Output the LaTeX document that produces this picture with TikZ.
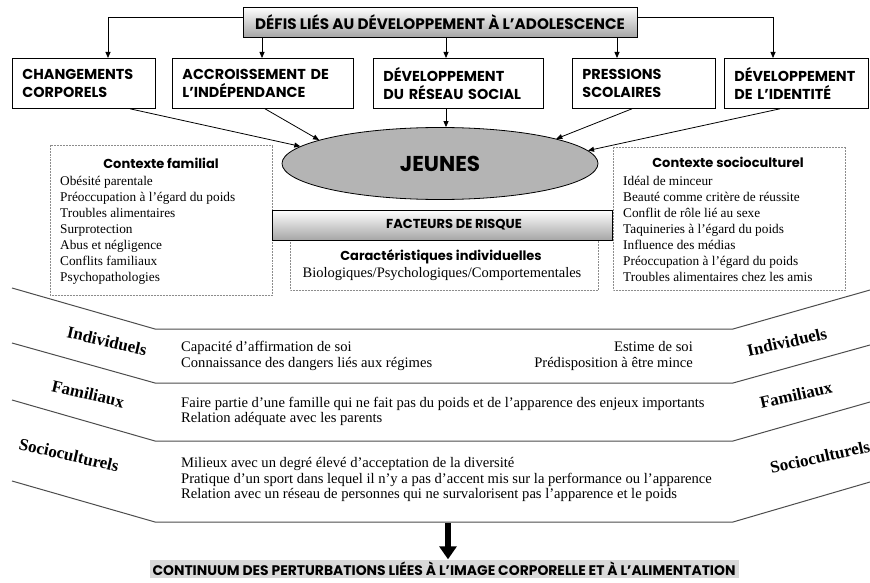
\documentclass[tikz,border=0pt]{standalone}
\usepackage{fontspec}
\setmainfont{Liberation Serif}
\newfontfamily\gothic{Poppins}
\usetikzlibrary{arrows.meta,shapes.geometric}
\definecolor{ellg}{RGB}{180,180,180}
\definecolor{contg}{RGB}{217,217,217}
\begin{document}
\begin{tikzpicture}[x=1pt,y=-1pt,
  arr/.style={-{Triangle[length=6pt,width=5pt]}, line width=0.8pt},
  cbox/.style={draw, line width=0.8pt, anchor=north west, minimum height=50pt, inner xsep=10pt, inner ysep=0pt, align=left, font=\gothic\bfseries\fontsize{14.4}{18}\selectfont},
  gradbox/.style={draw, line width=0.8pt, shading=axis, top color=white, bottom color=black!35, inner sep=0pt},
  dotbox/.style={draw=black!45, densely dotted, line width=0.5pt},
  ttl/.style={font=\gothic\bfseries\fontsize{13}{15}\selectfont, inner sep=0pt},
  ltxt/.style={anchor=base west, inner sep=0pt, font=\fontsize{13.3}{16}\selectfont},
  btxt/.style={anchor=base west, inner sep=0pt, font=\fontsize{14.6}{16}\selectfont},
  brtxt/.style={anchor=base east, inner sep=0pt, font=\fontsize{14.6}{16}\selectfont},
  ctxt/.style={anchor=base, inner sep=0pt, font=\fontsize{14.5}{16}\selectfont},
  band/.style={line width=1pt, draw=black!70},
  lab/.style={font=\bfseries\fontsize{17}{17}\selectfont, inner sep=0pt}
]
\useasboundingbox (0,0) rectangle (870,583);

% top
\node[gradbox, minimum width=394pt, minimum height=30pt, font=\gothic\bfseries\fontsize{15.2}{16}\selectfont] (defis) at (440,22) {DÉFIS LIÉS AU DÉVELOPPEMENT À L’ADOLESCENCE};

\node[cbox, text width=123pt] (b1) at (12,58) {CHANGEMENTS\\CORPORELS};
\node[cbox, text width=161pt] (b2) at (172,58) {ACCROISSEMENT DE\\L’INDÉPENDANCE};
\node[cbox, text width=150pt] (b3) at (373,58) {DÉVELOPPEMENT\\DU RÉSEAU SOCIAL};
\node[cbox, text width=123pt] (b4) at (572,58) {PRESSIONS\\SCOLAIRES};
\node[cbox, text width=124pt] (b5) at (724,58) {DÉVELOPPEMENT\\DE L’IDENTITÉ};

\draw[arr] (defis.west |- 0,17) -| (b1.north -| 108,0);
\draw[arr] (defis.south -| 262,0) -- (b2.north -| 262,0);
\draw[arr] (defis.south -| 446,0) -- (b3.north -| 446,0);
\draw[arr] (defis.south -| 617,0) -- (b4.north -| 617,0);
\draw[arr] (defis.east |- 0,17) -| (b5.north -| 773,0);

% ellipse
\node[ellipse, draw, line width=0.8pt, fill=ellg, minimum width=316pt, minimum height=72pt, inner sep=0pt, font=\gothic\bfseries\fontsize{21.5}{22}\selectfont] (jeunes) at (440,163.5) {JEUNES};

\draw[arr] (b1.south -| 130,0) -- (jeunes.173.7);
\draw[arr] (b2.south -| 265,0) -- (jeunes.169);
\draw[arr] (b3.south -| 446,0) -- (jeunes.north -| 446,0);
\draw[arr] (b4.south -| 632,0) -- (jeunes.12);
\draw[arr] (b5.south -| 780,0) -- (jeunes.5.7);

% context boxes
\draw[dotbox] (50,145) rectangle (272,295);
\draw[dotbox] (613,147) rectangle (845,290);
\draw[dotbox] (290,240) rectangle (598,290);
\node[gradbox, minimum width=340pt, minimum height=30pt, font=\gothic\bfseries\fontsize{13}{15}\selectfont] (risk) at (442,225) {\hspace*{24pt}FACTEURS DE RISQUE};

\node[ttl] (famt) at (161,163) {Contexte familial};
\foreach \t [count=\i] in {Obésité parentale, Préoccupation à l’égard du poids, Troubles alimentaires, Surprotection, Abus et négligence, Conflits familiaux, Psychopathologies}
  \node[ltxt] (fam\i) at (60,{185.5+16*(\i-1)}) {\t};

\node[ttl] (soct) at (728,162) {Contexte socioculturel};
\foreach \t [count=\i] in {Idéal de minceur, Beauté comme critère de réussite, Conflit de rôle lié au sexe, Taquineries à l’égard du poids, Influence des médias, Préoccupation à l’égard du poids, Troubles alimentaires chez les amis}
  \node[ltxt] (soc\i) at (623,{185.5+16*(\i-1)}) {\t};

\node[ttl] (indt) at (441,257) {Caractéristiques individuelles};
\node[ctxt] (ind1) at (442,277.5) {Biologiques/Psychologiques/Comportementales};

% bands
\draw[band] (12,288) -- (155,329) -- (733,329) -- (870,290);
\draw[band] (12,343) -- (155,383) -- (733,383) -- (870,345);
\draw[band] (12,400) -- (155,441) -- (733,441) -- (870,402);
\draw[band] (12,481) -- (155,522) -- (733,522) -- (870,482);

\node[lab, rotate=-13] (li) at (107,341) {Individuels};
\node[lab, rotate=-13] (lf) at (88,394) {Familiaux};
\node[lab, rotate=-13] (ls) at (69,455) {Socioculturels};
\node[lab, rotate=12.5] (ri) at (787,342) {Individuels};
\node[lab, rotate=12.5] (rf) at (796,395) {Familiaux};
\node[lab, rotate=12.5] (rs) at (820,457) {Socioculturels};

\node[btxt] (t11) at (181,351.5) {Capacité d’affirmation de soi};
\node[btxt] (t12) at (181,367.5) {Connaissance des dangers liés aux régimes};
\node[brtxt] (t13) at (693,351.5) {Estime de soi};
\node[brtxt] (t14) at (693,367.5) {Prédisposition à être mince};

\node[btxt] (t21) at (181,407.5) {Faire partie d’une famille qui ne fait pas du poids et de l’apparence des enjeux importants};
\node[btxt] (t22) at (181,422.5) {Relation adéquate avec les parents};

\node[btxt] (t31) at (181,467.5) {Milieux avec un degré élevé d’acceptation de la diversité};
\node[btxt] (t32) at (181,483) {Pratique d’un sport dans lequel il n’y a pas d’accent mis sur la performance ou l’apparence};
\node[btxt] (t33) at (181,498) {Relation avec un réseau de personnes qui ne survalorisent pas l’apparence et le poids};

% bottom
\node[fill=contg, minimum width=589pt, minimum height=18pt, inner sep=0pt, font=\gothic\bfseries\fontsize{13.9}{15}\selectfont] (cont) at (444,568.5) {CONTINUUM DES PERTURBATIONS LIÉES À L’IMAGE CORPORELLE ET À L’ALIMENTATION};
\draw[line width=6pt, -{Triangle[length=13pt,width=17pt]}] (448,523) -- (cont.north -| 448,0);
\end{tikzpicture}
\end{document}
